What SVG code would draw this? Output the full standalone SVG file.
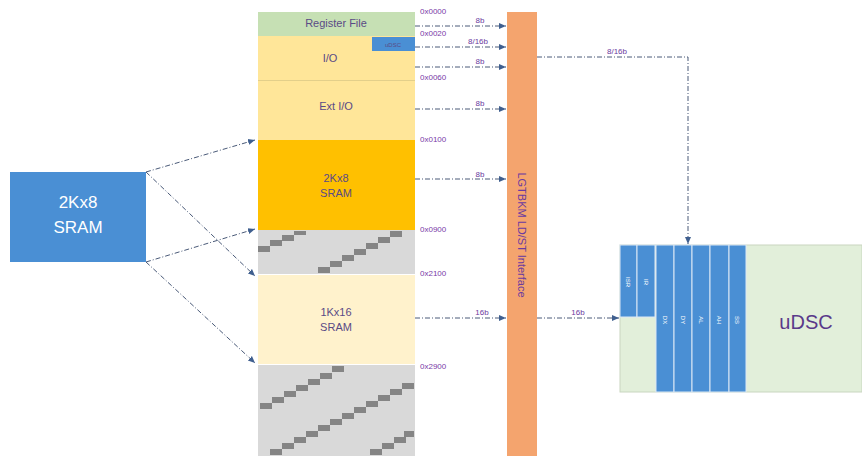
<svg xmlns="http://www.w3.org/2000/svg" width="862" height="459" viewBox="0 0 862 459">
<style>
text{font-family:"Liberation Sans","DejaVu Sans",sans-serif}
.lbl{fill:#5a4a86;font-size:11px;text-anchor:middle}
.addr{fill:#7a3aa8;font-size:8px}
.bw{fill:#6a3aa0;font-size:8px;text-anchor:middle}
.conn{fill:none;stroke:#4a5a78;stroke-width:1;stroke-dasharray:5 2 1 2}
.step{fill:#858585}
.gray{fill:#d9d9d9}
.reg{fill:#4a8fd4;stroke:#dbe8f5;stroke-width:1}
.rl{fill:#fff;font-size:6px;text-anchor:middle}
</style>
<defs>
<marker id="ah" markerWidth="8" markerHeight="8" refX="7" refY="4" orient="auto" markerUnits="userSpaceOnUse">
<path d="M0,1 L7,4 L0,7 Z" fill="#3f5f8f"/>
</marker>
</defs>
<rect width="862" height="459" fill="#fff"/>

<g id="sram2k">
<rect x="10" y="172" width="136" height="90" fill="#4a8fd4"/>
<text x="78" y="208" fill="#fff" font-size="17" text-anchor="middle">2Kx8</text>
<text x="78" y="233" fill="#fff" font-size="17" text-anchor="middle">SRAM</text>
</g>

<g id="memmap">
<rect x="258" y="12" width="157" height="24" fill="#c6e0b4"/>
<text class="lbl" x="336" y="27">Register File</text>
<rect x="258" y="36" width="157" height="44" fill="#ffe699"/>
<text class="lbl" x="330" y="62">I/O</text>
<line x1="258" y1="80.5" x2="415" y2="80.5" stroke="#e3cf8a"/>
<rect x="258" y="81" width="157" height="59" fill="#ffe699"/>
<text class="lbl" x="336" y="110">Ext I/O</text>
<rect x="258" y="140" width="157" height="90" fill="#ffc000"/>
<text class="lbl" x="336" y="182">2Kx8</text>
<text class="lbl" x="336" y="197">SRAM</text>
<rect class="gray" x="258" y="230" width="157" height="44"/>
<rect class="step" x="258" y="246" width="12" height="6"/>
<rect class="step" x="270" y="240" width="12" height="6"/>
<rect class="step" x="282" y="235" width="12" height="6"/>
<rect class="step" x="294" y="231" width="12" height="4"/>
<rect class="step" x="318" y="267" width="12" height="6"/>
<rect class="step" x="330" y="261" width="12" height="6"/>
<rect class="step" x="342" y="255" width="12" height="6"/>
<rect class="step" x="354" y="249" width="12" height="6"/>
<rect class="step" x="366" y="243" width="12" height="6"/>
<rect class="step" x="378" y="237" width="12" height="6"/>
<rect class="step" x="390" y="231" width="12" height="6"/>
<rect x="258" y="275" width="157" height="89" fill="#fff2cc"/>
<text class="lbl" x="336" y="316">1Kx16</text>
<text class="lbl" x="336" y="331">SRAM</text>
<rect class="gray" x="258" y="365" width="157" height="91"/>
<rect class="step" x="260" y="403" width="12" height="6"/>
<rect class="step" x="272" y="397" width="12" height="6"/>
<rect class="step" x="284" y="391" width="12" height="6"/>
<rect class="step" x="296" y="385" width="12" height="6"/>
<rect class="step" x="308" y="379" width="12" height="6"/>
<rect class="step" x="320" y="373" width="12" height="6"/>
<rect class="step" x="332" y="366" width="12" height="6"/>
<rect class="step" x="270" y="449" width="12" height="6"/>
<rect class="step" x="282" y="443" width="12" height="6"/>
<rect class="step" x="294" y="437" width="12" height="6"/>
<rect class="step" x="306" y="431" width="12" height="6"/>
<rect class="step" x="318" y="425" width="12" height="6"/>
<rect class="step" x="330" y="419" width="12" height="6"/>
<rect class="step" x="342" y="413" width="12" height="6"/>
<rect class="step" x="354" y="407" width="12" height="6"/>
<rect class="step" x="366" y="401" width="12" height="6"/>
<rect class="step" x="378" y="395" width="12" height="6"/>
<rect class="step" x="390" y="389" width="12" height="6"/>
<rect class="step" x="402" y="383" width="12" height="6"/>
<rect class="step" x="370" y="449" width="12" height="6"/>
<rect class="step" x="382" y="443" width="12" height="6"/>
<rect class="step" x="394" y="437" width="12" height="6"/>
<rect class="step" x="404" y="431" width="10" height="6"/>
<rect x="372" y="37" width="43" height="14" fill="#4a8fd4"/>
<text x="393" y="47" fill="#5a4a86" font-size="6" text-anchor="middle">uDSC</text>
</g>

<g id="addresses">
<text class="addr" x="420" y="14">0x0000</text>
<text class="addr" x="420" y="36">0x0020</text>
<text class="addr" x="420" y="80">0x0060</text>
<text class="addr" x="420" y="142">0x0100</text>
<text class="addr" x="420" y="232">0x0900</text>
<text class="addr" x="420" y="276">0x2100</text>
<text class="addr" x="420" y="369">0x2900</text>
</g>

<g id="interface">
<rect x="507" y="12" width="30" height="444" fill="#f4a46e"/>
<text transform="translate(518,235) rotate(90)" fill="#6a3aa0" font-size="11" text-anchor="middle">LGTBKM LD/ST Interface</text>
</g>

<g id="udsc">
<rect x="620" y="245" width="242" height="147" fill="#e2efda" stroke="#c9d6c0" stroke-width="1"/>
<rect class="reg" x="620" y="245" width="17" height="72"/>
<rect class="reg" x="637" y="245" width="18" height="72"/>
<rect class="reg" x="656" y="245" width="18" height="147"/>
<rect class="reg" x="674" y="245" width="18" height="147"/>
<rect class="reg" x="692" y="245" width="18" height="147"/>
<rect class="reg" x="710" y="245" width="19" height="147"/>
<rect class="reg" x="729" y="245" width="17" height="147"/>
<text class="rl" transform="translate(626,282) rotate(90)">ISR</text>
<text class="rl" transform="translate(644,282) rotate(90)">IR</text>
<text class="rl" transform="translate(663,320) rotate(90)">DX</text>
<text class="rl" transform="translate(681,320) rotate(90)">DY</text>
<text class="rl" transform="translate(699,320) rotate(90)">AL</text>
<text class="rl" transform="translate(717,320) rotate(90)">AH</text>
<text class="rl" transform="translate(735,320) rotate(90)">SS</text>
<text x="806" y="329" fill="#5a3a8a" font-size="20" text-anchor="middle">uDSC</text>
</g>

<g id="connectors">
<line class="conn" x1="146" y1="172" x2="255" y2="140" marker-end="url(#ah)"/>
<line class="conn" x1="146" y1="172" x2="255" y2="276" marker-end="url(#ah)"/>
<line class="conn" x1="146" y1="262" x2="255" y2="229" marker-end="url(#ah)"/>
<line class="conn" x1="146" y1="262" x2="255" y2="363" marker-end="url(#ah)"/>
<line class="conn" x1="415" y1="26" x2="506" y2="26" marker-end="url(#ah)"/>
<line class="conn" x1="415" y1="47" x2="506" y2="47" marker-end="url(#ah)"/>
<line class="conn" x1="415" y1="67" x2="506" y2="67" marker-end="url(#ah)"/>
<line class="conn" x1="415" y1="109" x2="506" y2="109" marker-end="url(#ah)"/>
<line class="conn" x1="415" y1="179" x2="506" y2="179" marker-end="url(#ah)"/>
<line class="conn" x1="415" y1="318" x2="506" y2="318" marker-end="url(#ah)"/>
<polyline class="conn" points="537,57 688,57 688,244" marker-end="url(#ah)"/>
<line class="conn" x1="537" y1="318" x2="619" y2="318" marker-end="url(#ah)"/>
<text class="bw" x="480" y="23">8b</text>
<text class="bw" x="478" y="44">8/16b</text>
<text class="bw" x="480" y="64">8b</text>
<text class="bw" x="480" y="106">8b</text>
<text class="bw" x="480" y="177">8b</text>
<text class="bw" x="482" y="315">16b</text>
<text class="bw" x="617" y="54">8/16b</text>
<text class="bw" x="578" y="315">16b</text>
</g>
</svg>
